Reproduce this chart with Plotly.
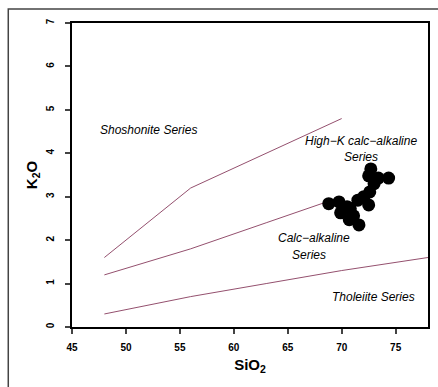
import plotly.graph_objects as go

# Boundary lines (Peccerillo & Taylor style)
shos_x = [48, 56, 70]
shos_y = [1.6, 3.2, 4.8]
hik_x = [48, 56, 63, 70]
hik_y = [1.2, 1.8, 2.4, 3.0]
thol_x = [48, 56, 63, 70, 78]
thol_y = [0.3, 0.7, 1.0, 1.3, 1.6]

# Samples
sio2 = [68.8, 69.75, 69.9, 70.5, 70.7, 71.1, 71.6, 71.5, 72.05, 72.5, 72.6, 73.0, 72.5, 72.7, 73.4, 74.35, 70.8]
k2o = [2.84, 2.88, 2.63, 2.77, 2.47, 2.56, 2.35, 2.92, 3.0, 2.81, 3.11, 3.3, 3.48, 3.64, 3.43, 3.43, 2.72]

x_ticks = [45, 50, 55, 60, 65, 70, 75]
y_ticks = [0, 1, 2, 3, 4, 5, 6, 7]

line_col = "#94506e"
fig = go.Figure()
for xs, ys in [(shos_x, shos_y), (hik_x, hik_y), (thol_x, thol_y)]:
    fig.add_trace(go.Scatter(x=xs, y=ys, mode="lines",
                             line=dict(color=line_col, width=1), hoverinfo="skip"))
fig.add_trace(go.Scatter(x=sio2, y=k2o, mode="markers",
                         marker=dict(color="black", size=13, line=dict(width=0))))

afont = dict(family="Liberation Sans, Arial", size=12, color="black")
ann = [
    ("<i>Shoshonite Series</i>", 52.1, 4.54),
    ("<i>High−K calc−alkaline<br>Series</i>", 71.8, 4.10),
    ("<i>Calc−alkaline</i>", 67.4, 2.05),
    ("<i>Series</i>", 67.0, 1.66),
    ("<i>Tholeiite Series</i>", 72.97, 0.69),
]
for t, x, y in ann:
    fig.add_annotation(text=t, x=x, y=y, showarrow=False, font=afont)

fig.add_shape(type="rect", xref="paper", yref="paper",
              x0=-0.179, x1=1.08, y0=-0.3, y1=1.046,
              line=dict(color="#444", width=1.5), layer="below")

tick_font = dict(family="Liberation Sans, Arial", size=10, color="black", weight="bold")
title_font = dict(family="Liberation Sans, Arial", size=15, color="black")
fig.update_layout(
    width=438, height=387,
    margin=dict(l=72, r=8, t=23, b=60),
    plot_bgcolor="white", paper_bgcolor="white",
    showlegend=False,
    xaxis=dict(range=[45, 78], tickvals=x_ticks, ticks="outside", ticklen=5,
               tickwidth=1.5, showline=True, linecolor="black", linewidth=1.5,
               mirror=True, showgrid=False, zeroline=False, tickfont=tick_font,
               ticklabelstandoff=5,
               title=dict(text="<b>SiO<sub>2</sub></b>", standoff=8, font=title_font)),
    yaxis=dict(range=[0, 7], tickvals=y_ticks, ticks="outside", ticklen=5,
               tickwidth=1.5, showline=True, linecolor="black", linewidth=1.5,
               mirror=True, showgrid=False, zeroline=False, tickfont=tick_font,
               tickangle=-90, ticklabelstandoff=7,
               title=dict(text="<b>K<sub>2</sub>O</b>", standoff=4, font=title_font)),
)
fig.write_html("out.html")
